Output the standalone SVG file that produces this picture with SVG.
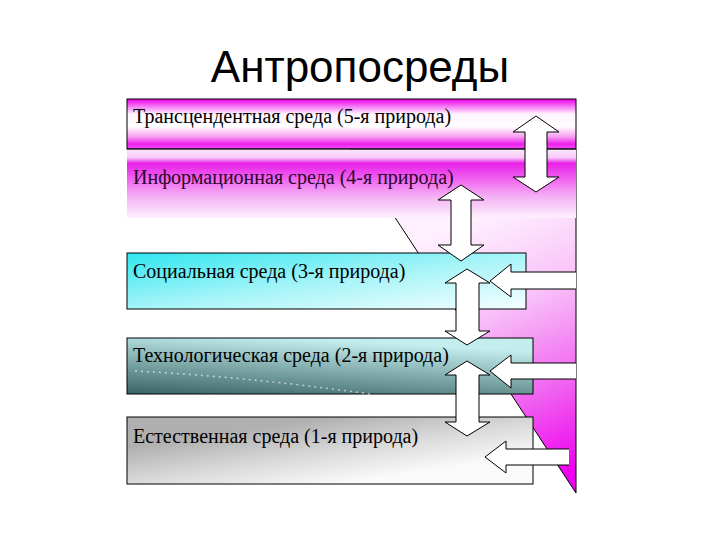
<svg xmlns="http://www.w3.org/2000/svg" width="720" height="540" viewBox="0 0 720 540">
<defs>
<linearGradient id="g1" x1="0" y1="0" x2="0" y2="1">
<stop offset="0" stop-color="#ee00ee"/>
<stop offset="0.08" stop-color="#f040f0"/>
<stop offset="0.3" stop-color="#fff4ff"/>
<stop offset="0.55" stop-color="#ffffff"/>
<stop offset="0.75" stop-color="#f7a0f0"/>
<stop offset="0.9" stop-color="#ee20ee"/>
<stop offset="1" stop-color="#f050f0"/>
</linearGradient>
<linearGradient id="g2" x1="0" y1="0" x2="0" y2="1">
<stop offset="0" stop-color="#fbe8fb"/>
<stop offset="0.12" stop-color="#f8c8f8"/>
<stop offset="0.2" stop-color="#e820e8"/>
<stop offset="0.42" stop-color="#f060f0"/>
<stop offset="0.7" stop-color="#f4b4f4"/>
<stop offset="1" stop-color="#fdf0fd"/>
</linearGradient>
<linearGradient id="g3" x1="0" y1="0" x2="1" y2="1">
<stop offset="0" stop-color="#30e6f0"/>
<stop offset="0.5" stop-color="#a4f4f8"/>
<stop offset="1" stop-color="#f6ffff"/>
</linearGradient>
<linearGradient id="g4" x1="0" y1="1" x2="0.4" y2="0">
<stop offset="0" stop-color="#3a6262"/>
<stop offset="0.5" stop-color="#7ea8a8"/>
<stop offset="1" stop-color="#c4eeee"/>
</linearGradient>
<linearGradient id="g5" gradientUnits="userSpaceOnUse" x1="330" y1="417" x2="340" y2="484">
<stop offset="0" stop-color="#b0b0b0"/>
<stop offset="0.5" stop-color="#d8d8d8"/>
<stop offset="1" stop-color="#fafafa"/>
</linearGradient>
<linearGradient id="gp" gradientUnits="userSpaceOnUse" x1="470" y1="220" x2="576" y2="470">
<stop offset="0" stop-color="#fff0ff"/>
<stop offset="0.35" stop-color="#f8c0f8"/>
<stop offset="0.7" stop-color="#f060f0"/>
<stop offset="1" stop-color="#ee00ee"/>
</linearGradient>
<style>
.box{stroke:#000;stroke-width:1}
.lbl{font-family:"Liberation Serif","Times New Roman",serif;font-size:20px;fill:#000}
.arr{fill:#fff;stroke:#000;stroke-width:1;stroke-linejoin:miter}
.af{fill:#fff;stroke:none}
.al{fill:none;stroke:#000;stroke-width:1}
</style>
</defs>
<rect width="720" height="540" fill="#fff"/>
<text x="360" y="82" text-anchor="middle" font-family="Liberation Sans, Arial, sans-serif" font-size="44" fill="#000">Антропосреды</text>
<g id="panel">
<polygon points="350,149 576,149 576,493" fill="url(#gp)" stroke="#000" stroke-width="1"/>
</g>
<g id="env5">
<rect class="box" x="127" y="99" width="449" height="50" fill="url(#g1)"/>
<text class="lbl" x="133" y="123">Трансцендентная среда (5-я природа)</text>
</g>
<g id="env4">
<rect x="127" y="149.5" width="449" height="68.5" fill="url(#g2)"/>
<line x1="127" y1="149" x2="576" y2="149" stroke="#000"/>
<text class="lbl" x="133" y="184" style="fill:#2a062a">Информационная среда (4-я природа)</text>
</g>
<g id="env3">
<rect class="box" x="127" y="253" width="399" height="56" fill="url(#g3)"/>
<text class="lbl" x="133" y="278">Социальная среда (3-я природа)</text>
</g>
<g id="env2">
<rect class="box" x="127" y="338" width="406" height="56" fill="url(#g4)"/>
<path d="M135,371 Q250,377 370,394" fill="none" stroke="#fff" stroke-width="1.5" stroke-dasharray="2 4" opacity="0.6"/>
<text class="lbl" x="133" y="362">Технологическая среда (2-я природа)</text>
</g>
<g id="env1">
<rect class="box" x="127" y="417" width="406" height="67" fill="url(#g5)"/>
<text class="lbl" x="133" y="443">Естественная среда (1-я природа)</text>
</g>
<g id="connectors">
<polygon class="arr" points="536,116 559,132 547,132 547,177 559,177 536,192 513,177 525,177 525,132 513,132"/>
<polygon class="arr" points="461,185 484,200 471,200 471,245 484,245 461,261 438,245 451,245 451,200 438,200"/>
<polygon class="arr" points="467,269 490,283 479,283 479,331 490,331 467,345 445,331 456,331 456,283 445,283"/>
<polygon class="arr" points="467,361 490,375 479,375 479,422 490,422 467,436 445,422 456,422 456,375 445,375"/>
<polygon class="af" points="576,272 511,272 511,264 490,281 511,297 511,289 576,289"/>
<polyline class="al" points="576,272 511,272 511,264 490,281 511,297 511,289 576,289"/>
<polygon class="af" points="576,363 511,363 511,355 490,371 511,388 511,379 576,379"/>
<polyline class="al" points="576,363 511,363 511,355 490,371 511,388 511,379 576,379"/>
<polygon class="af" points="569,449 506,449 506,441 485,457 506,473 506,465 569,465"/>
<polyline class="al" points="569,449 506,449 506,441 485,457 506,473 506,465 569,465"/>
</g>
</svg>
